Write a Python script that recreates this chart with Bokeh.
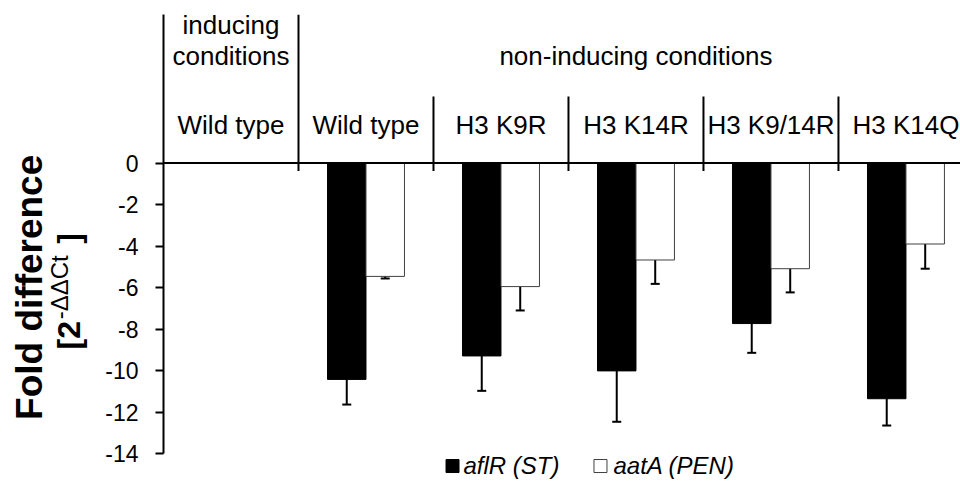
import math
from bokeh.plotting import figure
from bokeh.layouts import row
from bokeh.models import (Range1d, FixedTicker, ColumnDataSource, Whisker, TeeHead, Span)
from bokeh.core.properties import value
from bokeh.embed import file_html
from bokeh.resources import INLINE

# ---------------- data ----------------
conditions = ["inducing\nconditions", "non-inducing conditions"]
categories = ["Wild type", "Wild type", "H3 K9R", "H3 K14R", "H3 K9/14R", "H3 K14Q"]
bar_categories = ["Wild type", "H3 K9R", "H3 K14R", "H3 K9/14R", "H3 K14Q"]  # non-inducing
aflR = [-10.42, -9.29, -10.01, -7.73, -11.35]
aflR_err = [1.21, 1.68, 2.45, 1.41, 1.29]
aatA = [-5.46, -5.95, -4.67, -5.09, -3.90]
aatA_err = [0.10, 1.15, 1.15, 1.14, 1.19]
y_ticks = [0, -2, -4, -6, -8, -10, -12, -14]
series_names = ["aflR (ST)", "aatA (PEN)"]
y_title = ["Fold difference", "[2", "-\u0394\u0394Ct", "]"]

FONT = "Liberation Sans"

# category positions (numeric axis, one unit per category)
cat_x = [i + 0.5 for i in range(len(categories))]
bar_x = cat_x[1:]
bw = 0.285
black_x = [x - bw / 2 for x in bar_x]
white_x = [x + bw / 2 for x in bar_x]

# ---------------- title strip (rotated y title) ----------------
t = figure(width=100, height=481, output_backend="svg", toolbar_location=None,
           x_range=Range1d(0, 100), y_range=Range1d(0, 481),
           x_axis_location=None, y_axis_location=None,
           min_border=0)
t.outline_line_color = None
t.grid.visible = False
t.text(x=[29], y=[481 - 281], text=[y_title[0]], angle=math.pi / 2,
       text_font=value(FONT), text_font_size="37px", text_font_style="bold",
       text_align="center", text_baseline="alphabetic", text_color="black")
t.text(x=[68, 68], y=[481 - 345, 481 - 236], text=[y_title[1], y_title[3]], angle=math.pi / 2,
       text_font=value(FONT), text_font_size="32px", text_font_style="bold",
       text_align="left", text_baseline="alphabetic", text_color="black")
t.text(x=[59], y=[481 - 314], text=[y_title[2]], angle=math.pi / 2,
       text_font=value(FONT), text_font_size="24px",
       text_align="left", text_baseline="alphabetic", text_color="black")

# ---------------- main chart ----------------
p = figure(width=860, height=481, output_backend="svg", toolbar_location=None,
           x_range=Range1d(0, 5.904), y_range=Range1d(-15.335, 7.15),
           x_axis_location=None, min_border_left=63, min_border_right=0,
           min_border_top=14, min_border_bottom=0)
p.outline_line_color = None
p.grid.visible = False

ax = p.yaxis[0]
ax.ticker = FixedTicker(ticks=y_ticks)
ax.major_label_overrides = {tk: str(tk) for tk in y_ticks}
ax.bounds = (-14, 7.15)
ax.axis_line_width = 2
ax.axis_line_color = "black"
ax.major_tick_line_width = 2
ax.major_tick_line_color = "black"
ax.major_tick_out = 8
ax.major_tick_in = 0
ax.minor_tick_line_color = None
ax.major_label_standoff = 17
ax.major_label_text_font = FONT
ax.major_label_text_font_size = "23px"
ax.major_label_text_color = "black"

# bars
src_b = ColumnDataSource(dict(x=black_x, top=aflR,
                              lo=[v - e for v, e in zip(aflR, aflR_err)],
                              hi=[v + e for v, e in zip(aflR, aflR_err)]))
src_w = ColumnDataSource(dict(x=white_x, top=aatA,
                              lo=[v - e for v, e in zip(aatA, aatA_err)],
                              hi=[v + e for v, e in zip(aatA, aatA_err)]))
p.vbar(x="x", top="top", bottom=0, width=bw, source=src_b,
       fill_color="black", line_color="black", line_width=1)
p.vbar(x="x", top="top", bottom=0, width=bw, source=src_w,
       fill_color="white", line_color="#404040", line_width=1)

for src in (src_b, src_w):
    w = Whisker(base="x", upper="hi", lower="lo", source=src,
                line_color="black", line_width=2,
                upper_head=TeeHead(size=9, line_width=2, line_color="black"),
                lower_head=TeeHead(size=9, line_width=2, line_color="black"))
    p.add_layout(w)

# zero line
p.add_layout(Span(location=0, dimension="width", line_color="black", line_width=2))

# header dividers
div_x = [1, 2, 3, 4, 5]
div_top = [7.15, 3.20, 3.20, 3.20, 3.20]
p.segment(x0=div_x, x1=div_x, y0=[-0.385] * 5, y1=div_top, line_color="black", line_width=2)

# header texts
p.text(x=[0.5, 0.5, 3.5], y=[6.64, 5.13, 5.13],
       text=conditions[0].split("\n") + [conditions[1]],
       text_font=value(FONT), text_font_size="26px", text_align="center",
       text_baseline="alphabetic", text_color="black")
p.text(x=cat_x, y=[1.82] * len(cat_x), text=categories,
       text_font=value(FONT), text_font_size="26px", text_align="center",
       text_baseline="alphabetic", text_color="black")

# legend
p.scatter(x=[2.141], y=[-14.59], marker="square", size=13,
          fill_color="black", line_color="black")
p.scatter(x=[3.237], y=[-14.59], marker="square", size=13,
          fill_color="white", line_color="#404040", line_width=1)
p.text(x=[2.222, 3.333], y=[-14.57, -14.57], text=series_names,
       text_font=value(FONT), text_font_size="24px", text_font_style="italic",
       text_align="left", text_baseline="alphabetic", text_color="black")

layout = row(t, p)
open("out.html", "w").write(file_html(layout, INLINE))
